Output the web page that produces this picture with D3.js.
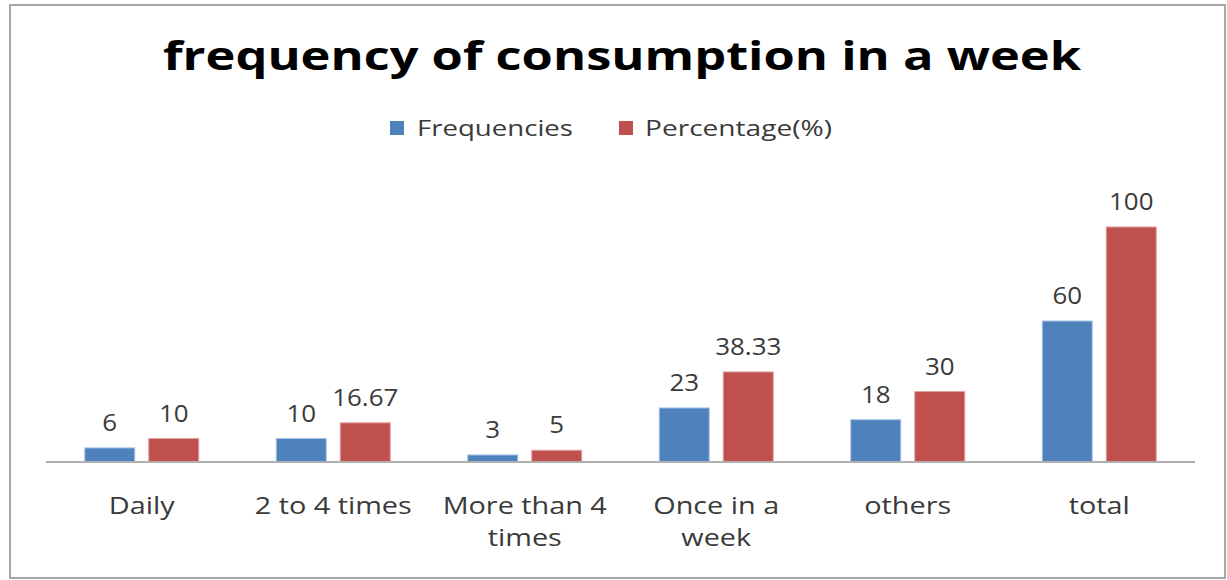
<!DOCTYPE html>
<html>
<head>
<meta charset="utf-8">
<script src="https://cdn.jsdelivr.net/npm/d3@7"></script>
<style>
  body { margin: 0; background: #fff; }
  svg { display: block; font-family: "Open Sans", "DejaVu Sans", sans-serif; }
</style>
</head>
<body>
<svg id="chart" width="1227" height="580"></svg>
<script>
// chart values
var categories = ["Daily", "2 to 4 times", "More than 4 times", "Once in a week", "others", "total"]
var series_names = ["Frequencies", "Percentage(%)"]
var frequencies = [6, 10, 3, 23, 18, 60]
var percentages = [10, 16.67, 5, 38.33, 30, 100]
var value_labels = [["6", "10", "3", "23", "18", "60"], ["10", "16.67", "5", "38.33", "30", "100"]]

var colors = ["#4f81bd", "#c0504d"]
var edge_colors = ["#a9c4e6", "#e0a09e"]
var margin = { left: 46, right: 32, top: 227, axis_y: 462 }
var width = 1227, height = 580

var svg = d3.select("#chart")

// the reference font is wider than Open Sans, stretch text horizontally
function stretch(sel, k) {
    sel.each(function () {
        var len = this.getComputedTextLength()
        d3.select(this).attr("textLength", len * k).attr("lengthAdjust", "spacingAndGlyphs")
    })
}

// outer frame
svg.append("rect").attr("x", 10).attr("y", 5).attr("width", 1215).attr("height", 573)
    .attr("fill", "none").attr("stroke", "#a6a6a6").attr("stroke-width", 2)

svg.append("text").attr("x", 622).attr("y", 70).attr("text-anchor", "middle")
    .attr("font-size", 40).attr("font-weight", "bold").attr("fill", "#000")
    .attr("textLength", 918).attr("lengthAdjust", "spacingAndGlyphs")
    .text("frequency of consumption in a week")

// legend
var legend_items = [{ x: 390, tx: 417, tw: 156 }, { x: 619, tx: 645, tw: 187 }]
legend_items.forEach(function (item, i) {
    svg.append("rect").attr("x", item.x).attr("y", 121).attr("width", 14).attr("height", 14).attr("fill", colors[i])
    svg.append("text").attr("x", item.tx).attr("y", 136).attr("font-size", 22).attr("fill", "#3a3a3a")
        .attr("textLength", item.tw).attr("lengthAdjust", "spacingAndGlyphs")
        .text(series_names[i])
})

var xScale = d3.scaleBand().domain(categories).range([margin.left, width - margin.right]).padding(0)
var innerScale = d3.scaleBand().domain(d3.range(2)).paddingInner(14 / 64).paddingOuter(0)
    .range([(xScale.bandwidth() - 114) / 2, (xScale.bandwidth() + 114) / 2])
var yScale = d3.scaleLinear().domain([0, 100]).range([margin.axis_y, margin.top])

var table = categories.map((c, i) => ({ cat: c, values: [frequencies[i], percentages[i]], labels: [value_labels[0][i], value_labels[1][i]] }))

var groups = svg.selectAll(".group").data(table).join("g").attr("class", "group")
    .attr("transform", d => "translate(" + xScale(d.cat) + ",0)")

groups.selectAll("rect").data(d => d.values.map((v, k) => ({ v: v, k: k, label: d.labels[k] }))).join("rect")
    .attr("x", d => innerScale(d.k))
    .attr("y", d => yScale(d.v))
    .attr("width", innerScale.bandwidth())
    .attr("height", d => yScale(0) - yScale(d.v))
    .attr("fill", d => colors[d.k])
    .attr("stroke", d => edge_colors[d.k]).attr("stroke-width", 1)

groups.selectAll(".val").data(d => d.values.map((v, k) => ({ v: v, k: k, label: d.labels[k] }))).join("text")
    .attr("class", "val")
    .attr("x", d => innerScale(d.k) + innerScale.bandwidth() / 2)
    .attr("y", d => yScale(d.v) - 17)
    .attr("text-anchor", "middle").attr("font-size", 24).attr("fill", "#3a3a3a")
    .text(d => d.label)
    .call(stretch, 1.08)

// axis line
svg.append("line").attr("x1", margin.left).attr("x2", width - margin.right).attr("y1", margin.axis_y).attr("y2", margin.axis_y)
    .attr("stroke", "#b0b0b0").attr("stroke-width", 2)

// category labels with wrapping
var wrapped = { "More than 4 times": ["More than 4", "times"], "Once in a week": ["Once in a", "week"] }
groups.each(function (d) {
    var lines = wrapped[d.cat] || [d.cat]
    var g = d3.select(this)
    lines.forEach(function (line, j) {
        g.append("text").attr("class", "cat").attr("text-anchor", "middle").attr("font-size", 24).attr("fill", "#3a3a3a")
            .attr("x", xScale.bandwidth() / 2).attr("y", 514 + j * 32).text(line)
    })
})
groups.selectAll(".cat").call(stretch, 1.2)
</script>
</body>
</html>
